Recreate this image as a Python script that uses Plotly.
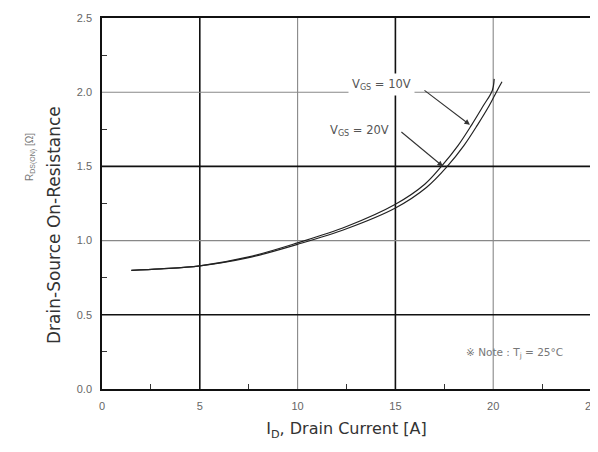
import plotly.graph_objects as go

# Data
id_10v = [1.5, 3.0, 5.0, 7.5, 10.0, 12.5, 15.0, 16.5, 17.35, 18.2, 18.9, 19.5, 19.95, 20.05]
r_10v = [0.80, 0.81, 0.83, 0.89, 0.985, 1.095, 1.245, 1.38, 1.50, 1.64, 1.78, 1.91, 2.01, 2.09]
id_20v = [1.5, 3.0, 5.0, 7.5, 10.0, 12.5, 15.0, 16.6, 17.65, 18.5, 19.2, 19.8, 20.2, 20.45]
r_20v = [0.80, 0.81, 0.83, 0.885, 0.975, 1.08, 1.22, 1.36, 1.50, 1.64, 1.78, 1.91, 2.01, 2.07]

x_ticks = [0, 5, 10, 15, 20, 25]
y_ticks = [0.0, 0.5, 1.0, 1.5, 2.0, 2.5]
x_ticklabels = ["0", "5", "10", "15", "20", "25"]
y_ticklabels = ["0.0", "0.5", "1.0", "1.5", "2.0", "2.5"]
x_grid_dark = [5, 15]
x_grid_light = [10, 20]
y_grid_dark = [0.5, 1.5]
y_grid_light = [1.0, 2.0]

fig = go.Figure()
for xs, ys in [(id_10v, r_10v), (id_20v, r_20v)]:
    fig.add_trace(go.Scatter(x=xs, y=ys, mode="lines",
                             line=dict(color="#222222", width=1.2, shape="spline"),
                             showlegend=False, hoverinfo="skip"))

shapes = []
for v in x_grid_dark:
    shapes.append(dict(type="line", xref="x", yref="y", x0=v, x1=v, y0=0, y1=2.5,
                       line=dict(color="#111111", width=1.6), layer="below"))
for v in x_grid_light:
    shapes.append(dict(type="line", xref="x", yref="y", x0=v, x1=v, y0=0, y1=2.5,
                       line=dict(color="#888888", width=1.1), layer="below"))
for v in y_grid_dark:
    shapes.append(dict(type="line", xref="x", yref="y", x0=0, x1=25, y0=v, y1=v,
                       line=dict(color="#111111", width=1.6), layer="below"))
for v in y_grid_light:
    shapes.append(dict(type="line", xref="x", yref="y", x0=0, x1=25, y0=v, y1=v,
                       line=dict(color="#888888", width=1.1), layer="below"))

FAM = "Liberation Sans, Arial, Noto Sans CJK JP, sans-serif"
WIDE = "DejaVu Sans, Liberation Sans, sans-serif"
font_tick = dict(family=FAM, size=11, color="#666666")

# page body adds an 8px offset; compensate so the plot area lands where the reference has it
OFF = 8
L, R, T, B = 102 - OFF, 7, 18 - OFF, 63
W, H = 598 - OFF, 452 - OFF
pw, ph = W - L - R, H - T - B


def px_to_paper(px, py):
    return (px - OFF - L) / pw, 1 - (py - OFF - T) / ph


t1x, t1y = px_to_paper(30, 157)
t2x, t2y = px_to_paper(54, 225)

annotations = [
    # arrows
    dict(x=18.81, y=1.78, ax=16.41, ay=2.02, xref="x", yref="y", axref="x", ayref="y",
         text="", showarrow=True, arrowhead=2, arrowsize=1, arrowwidth=1.1, arrowcolor="#333333"),
    dict(x=17.43, y=1.50, ax=15.23, ay=1.74, xref="x", yref="y", axref="x", ayref="y",
         text="", showarrow=True, arrowhead=2, arrowsize=1, arrowwidth=1.1, arrowcolor="#333333"),
    # labels
    dict(x=14.31, y=2.055, xref="x", yref="y", text="V<sub>GS</sub> = 10V", showarrow=False,
         font=dict(family=WIDE, size=11.5, color="#555555"), bgcolor="white", borderpad=3),
    dict(x=13.14, y=1.74, xref="x", yref="y", text="V<sub>GS</sub> = 20V", showarrow=False,
         font=dict(family=WIDE, size=11.5, color="#555555"), bgcolor="white", borderpad=3),
    dict(x=21.1, y=0.24, xref="x", yref="y", text="\u203b\ufe0e Note : T<sub>j</sub> = 25°C", showarrow=False,
         font=dict(family="DejaVu Sans, Noto Sans CJK JP, sans-serif", size=10.5, color="#777777")),
    # y-axis title lines
    dict(x=t1x, y=t1y, xref="paper", yref="paper", xanchor="center", yanchor="middle",
         text="R<sub>DS(ON)</sub> [Ω]", showarrow=False, textangle=-90,
         font=dict(family=FAM, size=10, color="#777777")),
    dict(x=t2x, y=t2y, xref="paper", yref="paper", xanchor="center", yanchor="middle",
         text="Drain-Source On-Resistance", showarrow=False, textangle=-90,
         font=dict(family=WIDE, size=17, color="#333333")),
]

fig.update_layout(
    width=W, height=H,
    margin=dict(l=L, r=R, t=T, b=B, autoexpand=False),
    paper_bgcolor="white", plot_bgcolor="white",
    shapes=shapes, annotations=annotations,
    xaxis=dict(range=[0, 25], tickvals=x_ticks, ticktext=x_ticklabels, showgrid=False,
               zeroline=False, showline=True, linecolor="#111111", linewidth=1.6, mirror=True,
               ticks="", tickfont=font_tick, ticklabelstandoff=6, automargin=False,
               minor=dict(tickvals=[2.5, 7.5, 12.5, 17.5, 22.5], ticks="inside", ticklen=5,
                          tickcolor="#333333", showgrid=False),
               title=dict(text="I<sub>D</sub>, Drain Current [A]",
                          font=dict(family=WIDE, size=16, color="#333333"), standoff=12)),
    yaxis=dict(range=[0, 2.5], tickvals=y_ticks, ticktext=y_ticklabels, showgrid=False,
               zeroline=False, showline=True, linecolor="#111111", linewidth=1.6, mirror=True,
               ticks="", tickfont=font_tick, ticklabelstandoff=6, automargin=False,
               minor=dict(tickvals=[0.25, 0.75, 1.25, 1.75, 2.25], ticks="inside", ticklen=5,
                          tickcolor="#333333", showgrid=False)),
)

fig.write_html("out.html")
